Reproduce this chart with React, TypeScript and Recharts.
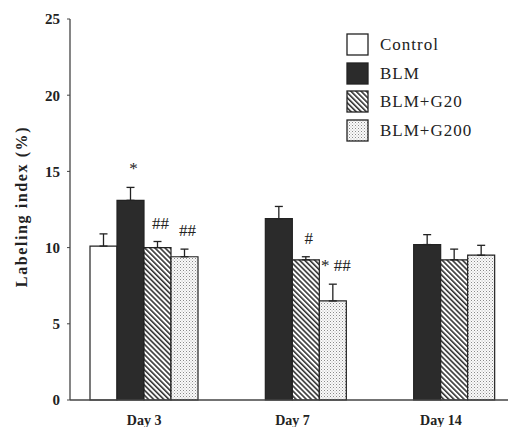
import React from "react";
import { BarChart, Bar, XAxis, YAxis, ErrorBar, LabelList, Label } from "recharts";

const days = ["Day 3", "Day 7", "Day 14"];
const seriesNames = ["Control", "BLM", "BLM+G20", "BLM+G200"];
const controlVals = [10.1, null, null];
const blmVals = [13.1, 11.9, 10.2];
const g20Vals = [10.0, 9.2, 9.2];
const g200Vals = [9.4, 6.5, 9.5];
const controlErr = [0.8, null, null];
const blmErr = [0.85, 0.8, 0.65];
const g20Err = [0.4, 0.2, 0.7];
const g200Err = [0.5, 1.1, 0.65];
const controlSig = ["", "", ""];
const blmSig = ["*", "", ""];
const g20Sig = ["##", "#", ""];
const g200Sig = ["##", "* ##", ""];
const yTicks = [0, 5, 10, 15, 20, 25];
const boundaryTicks = [1, 2];

const data = days.map((d, i) => ({
  day: d,
  control: controlVals[i],
  blm: blmVals[i],
  g20: g20Vals[i],
  g200: g200Vals[i],
  controlErr: controlErr[i],
  blmErr: blmErr[i],
  g20Err: g20Err[i],
  g200Err: g200Err[i],
  controlSig: controlSig[i],
  blmSig: blmSig[i],
  g20Sig: g20Sig[i],
  g200Sig: g200Sig[i],
}));

const FONT = "'Liberation Serif', 'DejaVu Serif', serif";
const INK = "#222";

const fills = ["#ffffff", "#2b2b2b", "url(#hatch)", "url(#dots)"];
const keys = ["control", "blm", "g20", "g200"];
const valArrays = [controlVals, blmVals, g20Vals, g200Vals];
const errArrays = [controlErr, blmErr, g20Err, g200Err];

function makeSigContent(vals: (number | null)[], errs: (number | null)[]) {
  return (props: any) => {
    const { x, y, width, height, value, index } = props;
    if (!value) return null;
    const v = vals[index];
    const e = errs[index] || 0;
    if (v == null || !height) return null;
    const ppu = height / v;
    const errTop = y - e * ppu;
    const cx = x + width / 2 + 3;
    return (
      <text
        x={cx}
        y={errTop - 13}
        textAnchor="middle"
        fontFamily={FONT}
        fontSize={17}
        fill={INK}
      >
        {value}
      </text>
    );
  };
}

function Patterns() {
  return (
    <svg width={0} height={0} style={{ position: "absolute" }}>
      <defs>
        <pattern
          id="hatch"
          patternUnits="userSpaceOnUse"
          width={3.6}
          height={3.6}
          patternTransform="rotate(45)"
        >
          <rect width={3.6} height={3.6} fill="#fff" />
          <line x1={0} y1={1} x2={3.6} y2={1} stroke="#333" strokeWidth={1.6} />
        </pattern>
        <pattern id="dots" patternUnits="userSpaceOnUse" width={3} height={3}>
          <rect width={3} height={3} fill="#fafafa" />
          <rect x={0} y={0} width={1} height={1} fill="#8a8a8a" />
          <rect x={1.5} y={1.5} width={1} height={1} fill="#b5b5b5" />
        </pattern>
      </defs>
    </svg>
  );
}

function LegendBox() {
  return (
    <div style={{ position: "absolute", left: 346, top: 31 }}>
      {seriesNames.map((name, i) => (
        <div
          key={name}
          style={{ display: "flex", alignItems: "center", height: 28.5 }}
        >
          <svg width={24} height={24} style={{ display: "block" }}>
            <rect
              x={1}
              y={1}
              width={21}
              height={21}
              fill={fills[i]}
              stroke={INK}
              strokeWidth={1.3}
            />
          </svg>
          <span
            style={{
              marginLeft: 10,
              fontFamily: FONT,
              fontSize: 17,
              letterSpacing: 1,
              color: INK,
              lineHeight: "20px",
            }}
          >
            {name}
          </span>
        </div>
      ))}
    </div>
  );
}

const BoundaryTick = (props: any) => {
  const { x, y } = props;
  return <line x1={x} x2={x} y1={y} y2={y - 5} stroke="#444" strokeWidth={1} />;
};

export default function App() {
  return (
    <div
      style={{
        position: "absolute",
        left: 0,
        top: 0,
        width: 508,
        height: 427,
        background: "#fff",
        overflow: "hidden",
      }}
    >
      <Patterns />
      <BarChart
        width={508}
        height={427}
        data={data}
        margin={{ top: 19, right: -7, left: 0, bottom: 0 }}
        barCategoryGap={20}
        barGap={0}
      >
        <XAxis
          xAxisId="bounds"
          type="number"
          domain={[0, 3]}
          ticks={boundaryTicks}
          allowDataOverflow
          height={0}
          axisLine={false}
          tickLine={false}
          tickSize={0}
          tickMargin={0}
          tick={<BoundaryTick />}
        />
        <XAxis
          dataKey="day"
          height={27}
          axisLine={{ stroke: "#444", strokeWidth: 1.3 }}
          tickLine={false}
          tickSize={0}
          tickMargin={15}
          tick={{ fontFamily: FONT, fontSize: 14, fontWeight: "bold", fill: INK }}
        />
        <YAxis
          width={70}
          domain={[0, 25]}
          ticks={yTicks}
          interval={0}
          axisLine={{ stroke: "#444", strokeWidth: 1.3 }}
          tickLine={{ stroke: "#444" }}
          tickSize={3}
          tickMargin={7}
          tick={{ fontFamily: FONT, fontSize: 15, fontWeight: "bold", fill: INK }}
        >
          <Label
            content={(p: any) => {
              const vb = p.viewBox || { x: 0, y: 19, width: 70, height: 381 };
              const cx = vb.x + 21;
              const cy = vb.y + vb.height / 2 - 3;
              return (
                <text
                  x={cx}
                  y={cy}
                  transform={`rotate(-90, ${cx}, ${cy})`}
                  textAnchor="middle"
                  dominantBaseline="central"
                  fontFamily={FONT}
                  fontSize={16}
                  fontWeight="bold"
                  letterSpacing={1.6}
                  fill={INK}
                >
                  Labeling index (%)
                </text>
              );
            }}
          />
        </YAxis>
        {keys.map((k, i) => (
          <Bar
            key={k}
            dataKey={k}
            name={seriesNames[i]}
            fill={fills[i]}
            stroke={INK}
            strokeWidth={1.2}
            isAnimationActive={false}
          >
            <ErrorBar
              dataKey={(d: any) =>
                d[k + "Err"] == null ? [0, 0] : [0, d[k + "Err"]]
              }
              width={4}
              stroke={INK}
              strokeWidth={1.3}
              direction="y"
            />
            <LabelList
              dataKey={k + "Sig"}
              content={makeSigContent(valArrays[i], errArrays[i])}
            />
          </Bar>
        ))}
      </BarChart>
      <LegendBox />
    </div>
  );
}
